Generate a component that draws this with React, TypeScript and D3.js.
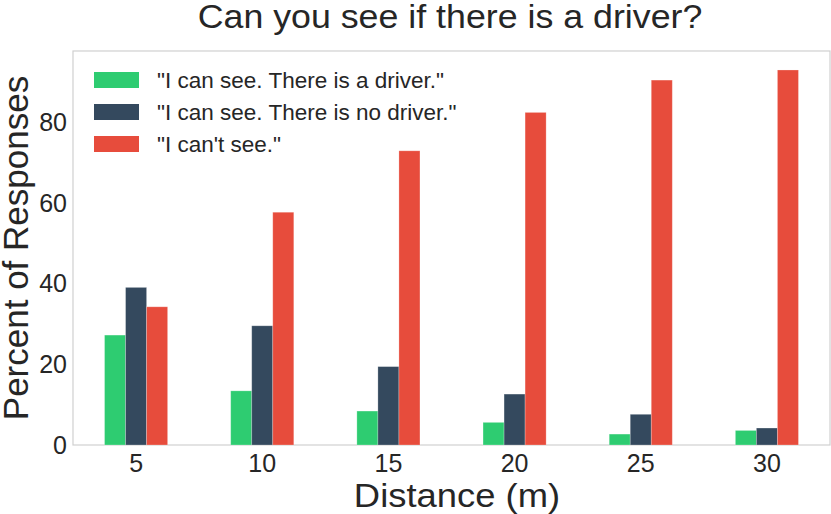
import React from 'react';
import * as d3 from 'd3';

// distances (m) and percent of responses per answer
const distances = ['5', '10', '15', '20', '25', '30'];
const seriesNames = ['"I can see. There is a driver."', '"I can see. There is no driver."', '"I can\'t see."'];
const driverSeen = [27.2, 13.4, 8.4, 5.6, 2.7, 3.6];
const noDriverSeen = [39.0, 29.5, 19.4, 12.6, 7.6, 4.2];
const cannotSee = [34.2, 57.6, 72.8, 82.3, 90.3, 92.8];
const yTicks = [0, 20, 40, 60, 80];
const colors = ['#2ecc71', '#34495e', '#e74c3c'];

const W = 831;
const H = 514;
const margin = { top: 51, right: 1, bottom: 69, left: 73 };
const font = '"Liberation Sans", Arial, sans-serif';

export default function App() {
  const series = [driverSeen, noDriverSeen, cannotSee];
  const innerW = W - margin.left - margin.right;
  const innerH = H - margin.top - margin.bottom;

  const x = d3.scaleBand().domain(distances).range([0, innerW]).paddingInner(0.5).paddingOuter(0.25);
  const sub = d3.scaleBand().domain(d3.range(series.length).map(String)).range([0, x.bandwidth()]);
  const y = d3.scaleLinear().domain([0, 97.5]).range([innerH, 0]);

  return (
    <svg width={W} height={H} style={{ position: 'absolute', left: 0, top: 0, fontFamily: font }}>
      <rect width={W} height={H} fill="#fff" />
      <text transform="translate(450,28) scale(1.1,1)" textAnchor="middle" fontSize={32.5} fill="#262626">
        Can you see if there is a driver?
      </text>
      <g transform={`translate(${margin.left},${margin.top})`}>
        <rect x={0} y={0} width={innerW} height={innerH} fill="none" stroke="#d0d0d0" strokeWidth={1.2} />
        {series.map((vals, si) =>
          vals.map((v, i) => (
            <rect
              key={`${si}-${i}`}
              x={(x(distances[i]) ?? 0) + (sub(String(si)) ?? 0)}
              y={y(v)}
              width={sub.bandwidth()}
              height={innerH - y(v)}
              fill={colors[si]}
              stroke="#fff"
              strokeOpacity={0.3}
              strokeWidth={0.8}
            />
          ))
        )}
        {yTicks.map((t) => (
          <text key={t} x={-6} y={y(t)} dy="0.36em" textAnchor="end" fontSize={25} fill="#262626">
            {t}
          </text>
        ))}
        {distances.map((d) => (
          <text key={d} x={(x(d) ?? 0) + x.bandwidth() / 2} y={innerH + 27} textAnchor="middle" fontSize={25} fill="#262626">
            {d}
          </text>
        ))}
        {seriesNames.map((name, i) => (
          <g key={name} transform={`translate(21,${21 + i * 32})`}>
            <rect x={0} y={0} width={45} height={16} fill={colors[i]} />
            <text x={63} y={8} dy="0.36em" fontSize={22.5} fill="#262626">
              {name}
            </text>
          </g>
        ))}
      </g>
      <text transform="translate(457,507) scale(1.12,1)" textAnchor="middle" fontSize={32.5} fill="#262626">
        Distance (m)
      </text>
      <text
        transform={`translate(28,${margin.top + innerH / 2})rotate(-90)`}
        textAnchor="middle"
        fontSize={35}
        fill="#262626"
      >
        Percent of Responses
      </text>
    </svg>
  );
}
